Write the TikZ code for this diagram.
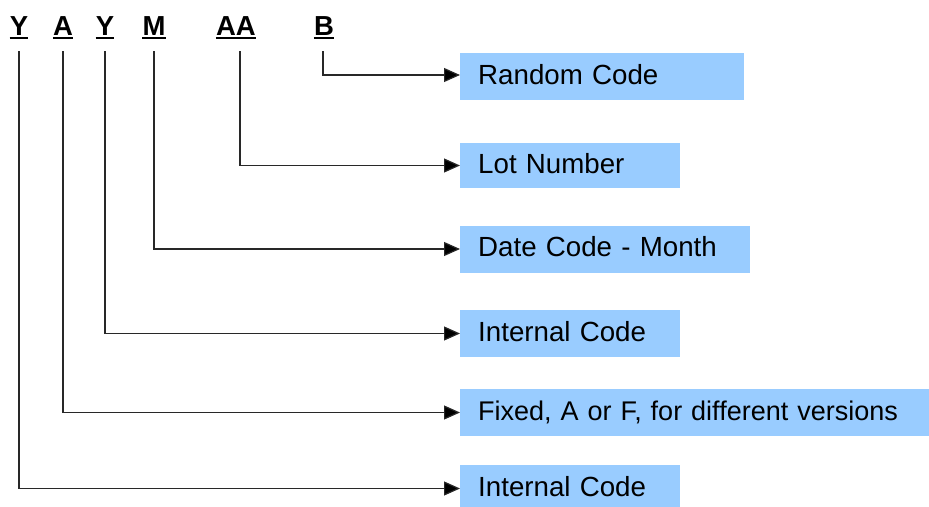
\documentclass[tikz,border=0pt]{standalone}
\usepackage{fontspec}
\setmainfont{Liberation Sans}
\usetikzlibrary{arrows.meta}
\definecolor{boxblue}{RGB}{153,204,255}
\definecolor{linegray}{RGB}{40,40,40}
\begin{document}
\begin{tikzpicture}[x=1pt,y=-1pt,
  letter/.style={inner sep=0pt, anchor=base, font=\fontsize{27.5}{33}\selectfont\bfseries},
  infobox/.style={fill=boxblue, anchor=west, inner xsep=18pt, inner ysep=0pt,
    minimum height=47pt, text height=20pt, text depth=5pt, align=left,
    font=\fontsize{27.7}{33}\selectfont},
  conn/.style={draw=linegray, line width=1.2pt, -{Triangle[length=16pt,width=14pt,fill=black]}, shorten <=16pt},
  uline/.style={line width=2.6pt}
]
\useasboundingbox (0,0) rectangle (929,506);
\clip (0,0) rectangle (929,506);

% code letters
\node[letter] (y1) at (19,35) {Y};
\node[letter] (a1) at (63,35) {A};
\node[letter] (y2) at (105,35) {Y};
\node[letter] (m1) at (154,35) {M};
\node[letter] (aa) at (236,35) {AA};
\node[letter] (b1) at (324,35) {B};
\foreach \n in {y1,a1,y2,m1,aa,b1}
  \draw[uline] ([yshift=-3pt]\n.base west) -- ([yshift=-3pt]\n.base east);

% description boxes
\node[infobox, text width=248pt] (rnd) at (460,76.5) {Random Code};
\node[infobox, text width=184pt, minimum height=45pt] (lot) at (460,165.5) {Lot Number};
\node[infobox, text width=254pt] (date) at (460,249) {Date Code - Month};
\node[infobox, text width=184pt] (int1) at (460,333.5) {Internal Code};
\node[infobox, text width=433pt, font=\fontsize{27.0}{33}\selectfont] (fix) at (460,412.5) {Fixed, A or F, for different versions};
\node[infobox, text width=184pt] (int2) at (460,488.5) {Internal Code};

% connectors
\draw[conn] ([xshift=-1pt]b1.base) |- ([yshift=1.5pt]rnd.west);
\draw[conn] ([xshift=4pt]aa.base) |- (lot.west);
\draw[conn] (m1.base) |- (date.west);
\draw[conn] (y2.base) |- (int1.west);
\draw[conn] (a1.base) |- (fix.west);
\draw[conn] (y1.base) |- (int2.west);
\end{tikzpicture}
\end{document}
